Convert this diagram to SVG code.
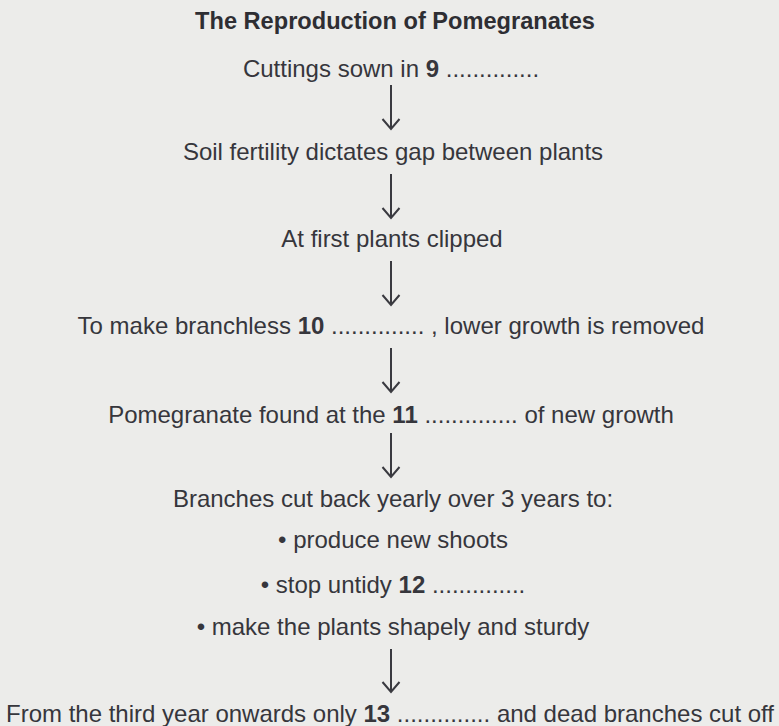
<svg xmlns="http://www.w3.org/2000/svg" width="779" height="726" viewBox="0 0 779 726">
<style>
text{font-family:"Liberation Sans",Arial,Helvetica,sans-serif;font-size:24px;fill:#36363c;text-anchor:middle}
.title{font-weight:bold;fill:#2e2e33;font-size:23.6px}
.b{font-weight:bold}
.con line{stroke:#3a3a40;stroke-width:2;fill:none}
</style>
<defs>
<marker id="arr" markerUnits="userSpaceOnUse" markerWidth="24" markerHeight="24" refX="0" refY="0" orient="auto" style="overflow:visible">
<path d="M-10,-8.5 L0,0 L-10,8.5" fill="none" stroke="#3a3a40" stroke-width="2"/>
</marker>
</defs>
<rect width="779" height="726" fill="#ececea"/>
<g id="title"><text class="title" x="395" y="29">The Reproduction of Pomegranates</text></g>
<g id="step1"><text x="391" y="77">Cuttings sown in <tspan class="b">9</tspan> ..............</text></g>
<g id="step2"><text x="393" y="160">Soil fertility dictates gap between plants</text></g>
<g id="step3"><text x="392" y="247">At first plants clipped</text></g>
<g id="step4"><text x="391" y="334">To make branchless <tspan class="b">10</tspan> .............. , lower growth is removed</text></g>
<g id="step5"><text x="391" y="423">Pomegranate found at the <tspan class="b">11</tspan> .............. of new growth</text></g>
<g id="step6">
<text x="393" y="507">Branches cut back yearly over 3 years to:</text>
<text x="393" y="548">• produce new shoots</text>
<text x="393" y="593">• stop untidy <tspan class="b">12</tspan> ..............</text>
<text x="393" y="635">• make the plants shapely and sturdy</text>
</g>
<g id="step7"><text x="390" y="722">From the third year onwards only <tspan class="b">13</tspan> .............. and dead branches cut off</text></g>
<g id="connectors" class="con">
<line x1="391" y1="85" x2="391" y2="129" marker-end="url(#arr)"/>
<line x1="391" y1="174" x2="391" y2="218" marker-end="url(#arr)"/>
<line x1="391" y1="261" x2="391" y2="305" marker-end="url(#arr)"/>
<line x1="391" y1="348" x2="391" y2="392" marker-end="url(#arr)"/>
<line x1="391" y1="433" x2="391" y2="477" marker-end="url(#arr)"/>
<line x1="391" y1="649" x2="391" y2="692" marker-end="url(#arr)"/>
</g>
</svg>
